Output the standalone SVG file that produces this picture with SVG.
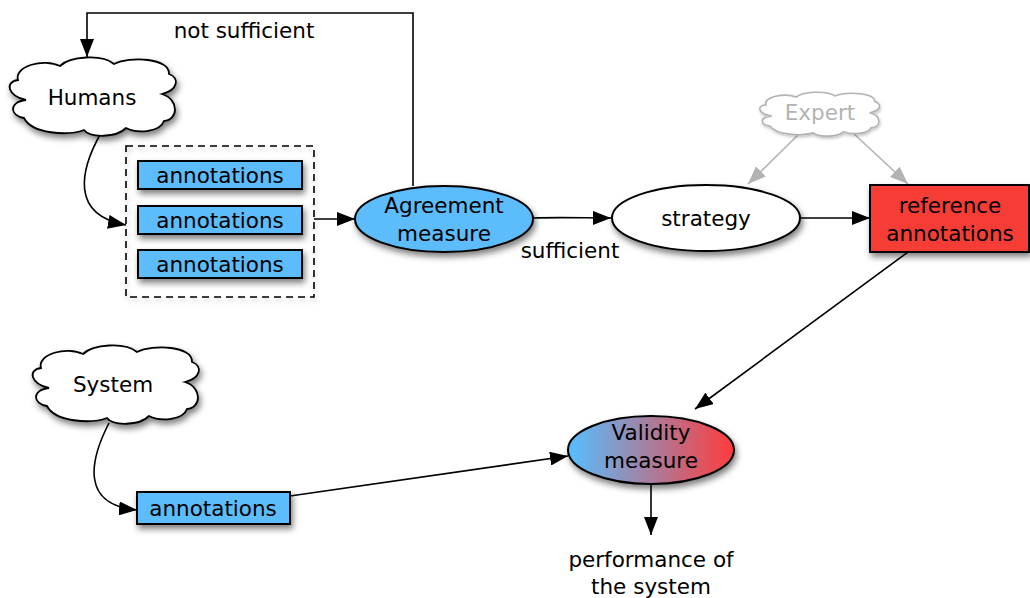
<svg xmlns="http://www.w3.org/2000/svg" width="1030" height="598" viewBox="0 0 1030 598">
<style>
text{font-family:"DejaVu Sans","Noto Sans",sans-serif;font-size:21.5px;fill:#000;text-anchor:middle}
.box{fill:#5bbcfc;stroke:#000;stroke-width:2}
.cloud{fill:#fff;stroke:#000;stroke-width:1.8}
.edge{fill:none;stroke:#000;stroke-width:1.6}
.gray{fill:none;stroke:#b3b3b3;stroke-width:1.6}
</style>
<defs>
<filter id="sh" x="-20%" y="-20%" width="150%" height="160%">
<feDropShadow dx="2" dy="4" stdDeviation="3" flood-color="#000" flood-opacity="0.5"/>
</filter>
<filter id="shl" x="-20%" y="-20%" width="150%" height="160%">
<feDropShadow dx="1" dy="3" stdDeviation="2.5" flood-color="#000" flood-opacity="0.25"/>
</filter>
<marker id="ar" viewBox="0 0 18 14" refX="18" refY="7" markerWidth="18" markerHeight="14" markerUnits="userSpaceOnUse" orient="auto">
<path d="M0,0 L18,7 L0,14 Z" fill="#000"/>
</marker>
<marker id="arg" viewBox="0 0 18 14" refX="18" refY="7" markerWidth="18" markerHeight="14" markerUnits="userSpaceOnUse" orient="auto">
<path d="M0,0 L18,7 L0,14 Z" fill="#b3b3b3"/>
</marker>
<linearGradient id="grad" x1="0" y1="0" x2="1" y2="0">
<stop offset="0" stop-color="#55bfff"/>
<stop offset="1" stop-color="#ff3b3b"/>
</linearGradient>
<path id="cl" vector-effect="non-scaling-stroke" d="M4,23 C0,9 30,1 46,9 C56,-1 88,-3 100,7 C116,-1 156,1 155,17 C166,21 164,33 148,37 C166,43 164,63 150,64 C146,75 124,77 112,71 C102,81 76,81 70,73 C54,79 18,77 10,61 C-4,59 -6,45 12,43 C-6,39 -10,25 4,23 Z"/>
</defs>

<g id="connectors">
<path class="edge" d="M413,186 V13 H87 V57" marker-end="url(#ar)"/>
<path class="edge" d="M101,133 C80,170 70,215 126,225" marker-end="url(#ar)"/>
<path class="edge" d="M314,219 H355" marker-end="url(#ar)"/>
<path class="edge" d="M533,218 C560,217 585,218 611,218" marker-end="url(#ar)"/>
<path class="edge" d="M800,218 H870" marker-end="url(#ar)"/>
<path class="gray" d="M800,133 L748,184" marker-end="url(#arg)"/>
<path class="gray" d="M853,133 L908,184" marker-end="url(#arg)"/>
<path class="edge" d="M908,252 L695,409" marker-end="url(#ar)"/>
<path class="edge" d="M109,423 C90,460 80,505 137,510" marker-end="url(#ar)"/>
<path class="edge" d="M290,496 L568,456" marker-end="url(#ar)"/>
<path class="edge" d="M651,484 V535" marker-end="url(#ar)"/>
<text x="244" y="38">not sufficient</text>
<text x="570" y="258">sufficient</text>
</g>

<g id="humans">
<use href="#cl" class="cloud" filter="url(#sh)" transform="translate(14,57)"/>
<text x="92" y="105">Humans</text>
</g>

<g id="annotation-group">
<rect x="126" y="146" width="188" height="151" fill="none" stroke="#000" stroke-width="1.6" stroke-dasharray="7,5" filter="url(#shl)"/>
<rect class="box" x="138" y="161" width="164" height="28" filter="url(#sh)"/>
<text x="220" y="183">annotations</text>
<rect class="box" x="138" y="206" width="164" height="28" filter="url(#sh)"/>
<text x="220" y="228">annotations</text>
<rect class="box" x="138" y="250" width="164" height="28" filter="url(#sh)"/>
<text x="220" y="272">annotations</text>
</g>

<g id="agreement">
<ellipse cx="444" cy="219" rx="89" ry="33" fill="#5bbcfc" stroke="#000" stroke-width="2" filter="url(#sh)"/>
<text x="444" y="213">Agreement</text>
<text x="444" y="241">measure</text>
</g>

<g id="strategy">
<ellipse cx="706" cy="218" rx="94" ry="33" fill="#fff" stroke="#000" stroke-width="2" filter="url(#sh)"/>
<text x="706" y="226">strategy</text>
</g>

<g id="expert">
<use href="#cl" fill="#fff" stroke="#b3b3b3" stroke-width="1.6" filter="url(#shl)" transform="translate(763,92) scale(0.72,0.56)"/>
<text x="820" y="120" style="fill:#b3b3b3">Expert</text>
</g>

<g id="reference">
<rect x="870" y="185" width="159" height="67" fill="#f63e36" stroke="#000" stroke-width="2" filter="url(#sh)"/>
<text x="950" y="213">reference</text>
<text x="950" y="241">annotations</text>
</g>

<g id="system">
<use href="#cl" class="cloud" filter="url(#sh)" transform="translate(37,345)"/>
<text x="113" y="392">System</text>
</g>

<g id="system-annotations">
<rect class="box" x="137" y="492" width="153" height="32" filter="url(#sh)"/>
<text x="213" y="516">annotations</text>
</g>

<g id="validity">
<ellipse cx="651" cy="450" rx="83" ry="34" fill="url(#grad)" stroke="#000" stroke-width="2" filter="url(#sh)"/>
<text x="651" y="440">Validity</text>
<text x="651" y="468">measure</text>
</g>

<g id="performance">
<text x="651" y="567">performance of</text>
<text x="651" y="594">the system</text>
</g>
</svg>
